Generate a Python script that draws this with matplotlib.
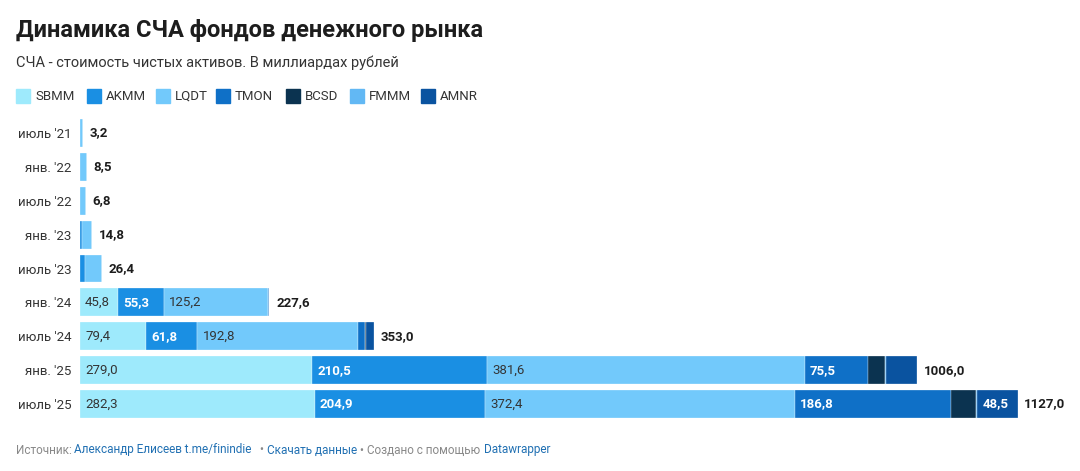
import matplotlib.pyplot as plt
import numpy as np

plt.rcParams['font.family'] = 'Roboto'

dates = ["июль '21", "янв. '22", "июль '22", "янв. '23", "июль '23",
         "янв. '24", "июль '24", "янв. '25", "июль '25"]
series = ['SBMM', 'AKMM', 'LQDT', 'TMON', 'BCSD', 'FMMM', 'AMNR']
SBMM = [0, 0, 0, 0, 0, 45.8, 79.4, 279.0, 282.3]
AKMM = [0, 0, 0, 2.0, 6.5, 55.3, 61.8, 210.5, 204.9]
LQDT = [3.2, 8.5, 6.8, 12.8, 19.9, 125.2, 192.8, 381.6, 372.4]
TMON = [0, 0, 0, 0, 0, 1.3, 8.0, 75.5, 186.8]
BCSD = [0, 0, 0, 0, 0, 0, 2.0, 21.0, 30.0]
FMMM = [0, 0, 0, 0, 0, 0, 0, 1.0, 2.1]
AMNR = [0, 0, 0, 0, 0, 0, 9.0, 37.4, 48.5]
totals = [3.2, 8.5, 6.8, 14.8, 26.4, 227.6, 353.0, 1006.0, 1127.0]

colors = ['#9eeafc', '#1a8fe3', '#72c9fb', '#0f70c7', '#0b3350', '#62b8f4', '#0a53a0']
dark = [False, True, False, True, True, False, True]
data = [SBMM, AKMM, LQDT, TMON, BCSD, FMMM, AMNR]

fig = plt.figure(figsize=(10.8, 4.71), dpi=100)
ax = fig.add_axes([80 / 1080, 50 / 471, 1000 / 1080, 305 / 471])
y = np.arange(len(dates))
left = np.zeros(len(dates))
for name, vals, c, d in zip(series, data, colors, dark):
    vals = np.array(vals)
    ax.barh(y, vals, left=left, height=0.82, color=c, edgecolor='white', linewidth=0.2)
    for i, v in enumerate(vals):
        if v >= 40:
            ax.text(left[i] + 6, y[i], f"{v:.1f}".replace('.', ','), va='center', ha='left',
                    fontsize=9.5, color='white' if d else '#333333',
                    fontweight='bold' if d else 'normal')
    left += vals
for i, t in enumerate(totals):
    ax.text(t + 8, y[i], f"{t:.1f}".replace('.', ','), va='center', ha='left',
            fontsize=9.5, fontweight='bold', color='#1d1d1d')

ax.set_xlim(0, 1202)
ax.set_ylim(len(dates) - 0.5, -0.5)
ax.set_yticks(y)
ax.set_yticklabels(dates, fontsize=9.5, color='#333333')
ax.tick_params(axis='y', length=0, pad=6)
ax.set_xticks([])
for s in ax.spines.values():
    s.set_visible(False)

fig.text(16 / 1080, 1 - 31 / 471, 'Динамика СЧА фондов денежного рынка', fontsize=17,
         fontweight='bold', va='center', color='#1d1d1d')
fig.text(16 / 1080, 1 - 63 / 471, 'СЧА - стоимость чистых активов. В миллиардах рублей',
         fontsize=10.5, va='center', color='#333333')
xpos = [16, 87, 156, 216, 286, 350, 421]
for xp, name, c in zip(xpos, series, colors):
    fig.patches.append(plt.Rectangle((xp / 1080, 1 - 103 / 471), 14 / 1080, 14 / 471,
                                     transform=fig.transFigure, color=c))
    fig.text((xp + 19) / 1080, 1 - 96 / 471, name, fontsize=9.5, va='center', color='#333333')

fy = 1 - 450 / 471
fig.text(16 / 1080, fy, 'Источник:', fontsize=8.5, va='center', color='#888888')
fig.text(74 / 1080, fy, 'Александр Елисеев t.me/finindie', fontsize=8.5,
         va='center', color='#1f6fb2')
fig.text(259 / 1080, fy, '•', fontsize=8.5, va='center', color='#888888')
fig.text(267 / 1080, fy, 'Скачать данные', fontsize=8.5, va='center', color='#1f6fb2')
fig.text(360 / 1080, fy, '• Создано с помощью', fontsize=8.5, va='center', color='#888888')
fig.text(484 / 1080, fy, 'Datawrapper', fontsize=8.5, va='center', color='#1f6fb2')

fig.savefig('out.png', dpi=100)
